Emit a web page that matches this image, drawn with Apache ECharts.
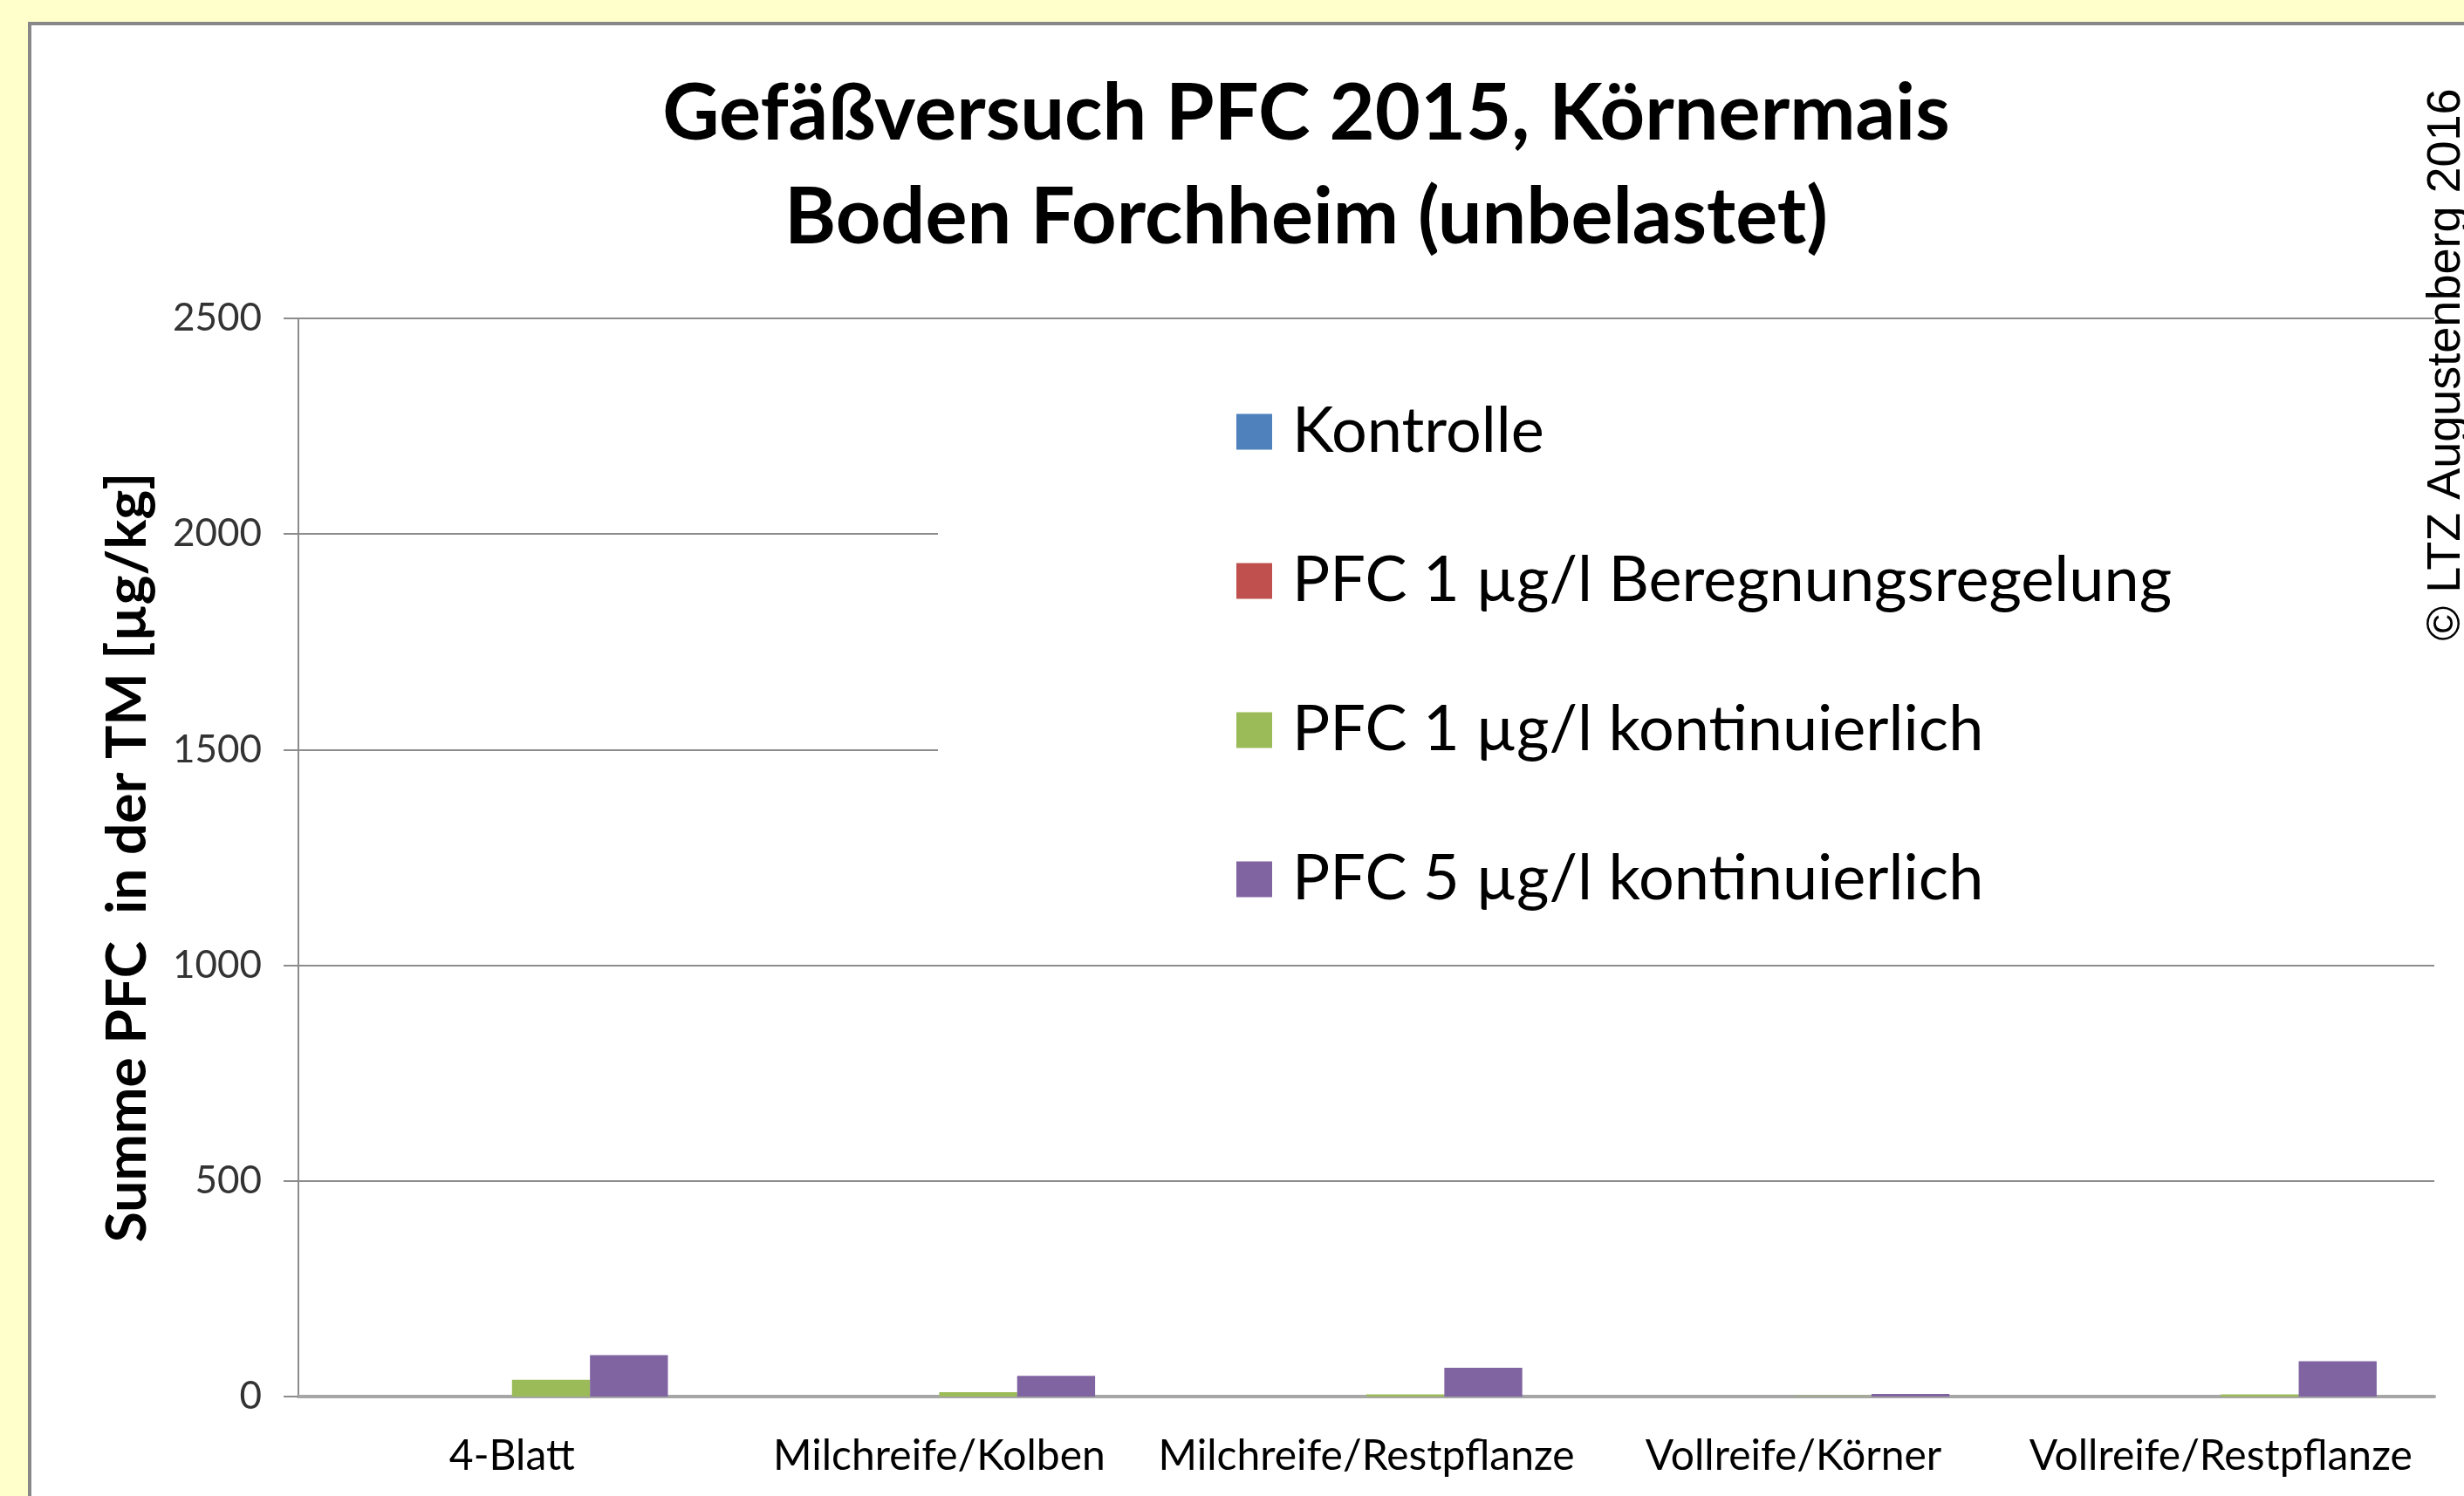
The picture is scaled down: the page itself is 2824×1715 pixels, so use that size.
<!DOCTYPE html>
<html>
<head>
<meta charset="utf-8">
<script src="https://cdn.jsdelivr.net/npm/echarts@6/dist/echarts.min.js"></script>
<style>
  html, body { margin: 0; padding: 0; background: #ffffcc; }
  #chart {
    position: absolute;
    left: 32px;
    top: 25px;
    width: 2800px;
    height: 1700px;
    background: #fff;
    border-left: 4px solid #888;
    border-top: 4px solid #888;
  }
</style>
</head>
<body>
<div id="chart"></div>
<script>
const categories = ['4-Blatt', 'Milchreife/Kolben', 'Milchreife/Restpflanze', 'Vollreife/Körner', 'Vollreife/Restpflanze'];
const seriesNames = ['Kontrolle', 'PFC 1 µg/l Beregnungsregelung', 'PFC 1 µg/l kontinuierlich', 'PFC 5 µg/l kontinuierlich'];
const kontrolle = [0, 0, 0, 0, 0];
const pfc1Beregnung = [0, 0, 0, 0, 0];
const pfc1Kontinuierlich = [39, 10, 5, 1, 5];
const pfc5Kontinuierlich = [96, 48, 67, 6, 82];
const yTicks = [0, 500, 1000, 1500, 2000, 2500];
const colors = ['#4f81bd', '#c0504d', '#9bbb59', '#8064a2'];

// the chart div sits inside the panel border, at (36, 29) on the page
const offX = 36, offY = 29;
const chart = echarts.init(document.getElementById('chart'));
const values = [kontrolle, pfc1Beregnung, pfc1Kontinuierlich, pfc5Kontinuierlich];

const option = {
  animation: false,
  textStyle: { fontFamily: 'Lato' },
  title: {
    text: 'Gefäßversuch PFC 2015, Körnermais\nBoden Forchheim (unbelastet)',
    left: 1497 - offX,
    top: 71 - offY,
    padding: 0,
    textAlign: 'center',
    textStyle: {
      fontFamily: 'Lato',
      fontWeight: 'bold',
      fontSize: 90,
      lineHeight: 119,
      color: '#000'
    }
  },
  legend: {
    orient: 'vertical',
    left: 1075 - offX,
    top: 375 - offY,
    padding: [84, 340, 50, 342],
    backgroundColor: '#fff',
    itemWidth: 41,
    itemHeight: 41,
    itemGap: 99,
    icon: 'rect',
    data: seriesNames,
    textStyle: {
      fontFamily: 'Lato',
      fontSize: 72,
      lineHeight: 72,
      color: '#000',
      padding: [0, 0, 0, 18]
    }
  },
  grid: {
    left: 342 - offX,
    right: 46,
    top: 365 - offY,
    bottom: 128
  },
  xAxis: {
    type: 'category',
    data: categories,
    axisLine: { lineStyle: { color: '#a6a6a6', width: 4 } },
    axisTick: { length: 17, lineStyle: { color: '#8c8c8c', width: 2 } },
    axisLabel: { interval: 0, fontFamily: 'Lato', fontSize: 48, color: '#000', margin: 45 }
  },
  yAxis: {
    type: 'value',
    min: 0,
    max: 2500,
    interval: 500,
    name: 'Summe PFC  in der TM [µg/kg]',
    nameLocation: 'middle',
    nameGap: 164,
    nameTextStyle: { fontFamily: 'Lato', fontWeight: 'bold', fontSize: 64, color: '#000' },
    axisLine: { show: true, lineStyle: { color: '#8c8c8c', width: 2 } },
    axisTick: { show: true, length: 17, lineStyle: { color: '#8c8c8c', width: 2 } },
    axisLabel: {
      fontFamily: 'Lato', fontSize: 44, color: '#333', margin: 42,
      formatter: v => (yTicks.includes(v) ? String(v) : '')
    },
    splitLine: { lineStyle: { color: '#8c8c8c', width: 2 } }
  },
  graphic: [{
    type: 'text',
    z: 100,
    x: 2804 - offX,
    y: 418 - offY,
    rotation: Math.PI / 2,
    style: {
      text: '© LTZ Augustenberg 2016',
      fontFamily: 'Liberation Sans',
      fontSize: 54,
      fill: '#000',
      align: 'center',
      verticalAlign: 'middle'
    }
  }],
  series: seriesNames.map((name, i) => ({
    name: name,
    type: 'bar',
    data: values[i],
    barGap: '0%',
    barCategoryGap: '27%',
    itemStyle: { color: colors[i] }
  }))
};

chart.setOption(option);
</script>
</body>
</html>
